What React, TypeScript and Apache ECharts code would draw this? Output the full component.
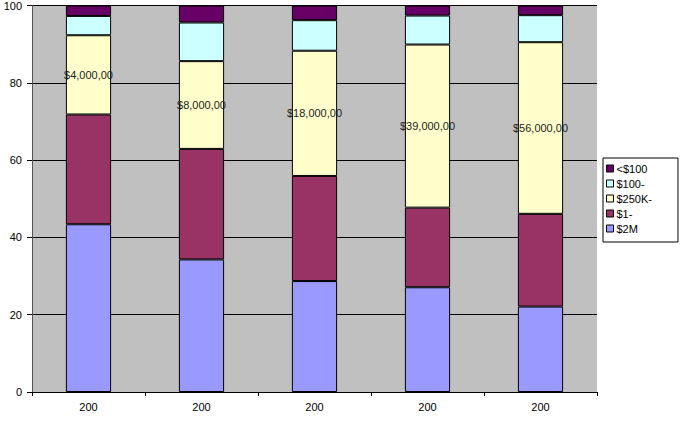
import React, { useEffect, useRef } from "react";
import * as echarts from "echarts";

const categories = ["200", "200", "200", "200", "200"];
const seriesNames = ["$2M", "$1-", "$250K-", "$100-", "<$100"];
const s2M = [43.4, 34.3, 28.7, 27.1, 22.1];
const s1 = [28.4, 28.6, 27.2, 20.6, 24.0];
const s250K = [20.5, 22.7, 32.4, 42.2, 44.4];
const s100 = [5.0, 10.0, 7.9, 7.5, 7.0];
const sLt100 = [2.7, 4.4, 3.8, 2.6, 2.5];
const labels250K = ["$4,000,00", "$8,000,00", "$18,000,00", "$39,000,00", "$56,000,00"];
const colors = ["#9999FF", "#993366", "#FFFFCC", "#CCFFFF", "#660066"];
const yTicks = [0, 20, 40, 60, 80, 100];

export default function App() {
  const ref = useRef<HTMLDivElement>(null);
  useEffect(() => {
    if (!ref.current) return;
    const chart = echarts.init(ref.current, null, { renderer: "svg" });
    const dataSets = [s2M, s1, s250K, s100, sLt100];
    const font = "Liberation Sans, Arial, sans-serif";
    const series = seriesNames.map((name, i) => ({
      name,
      type: "bar" as const,
      stack: "total",
      barWidth: "40%",
      data: dataSets[i],
      itemStyle: { color: colors[i], borderColor: "#000", borderWidth: 1 },
      label:
        name === "$250K-"
          ? {
              show: true,
              position: "inside" as const,
              formatter: (p: any) => labels250K[p.dataIndex],
              color: "#222",
              fontSize: 11,
              fontFamily: font,
            }
          : { show: false },
      emphasis: { disabled: true },
    }));
    chart.setOption({
      animation: false,
      color: colors,
      textStyle: { fontFamily: font },
      grid: {
        left: 32,
        top: 4,
        right: 85,
        bottom: 34,
        show: true,
        backgroundColor: "#C0C0C0",
        borderWidth: 0,
      },
      legend: {
        orient: "vertical",
        left: 603,
        top: 158,
        data: [...seriesNames].reverse(),
        itemWidth: 7,
        itemHeight: 7,
        itemGap: 4,
        padding: [5, 26, 8, 3],
        borderColor: "#000",
        borderWidth: 1,
        textStyle: { fontSize: 11, color: "#000", fontFamily: font, padding: [0, 0, 0, -2] },
        icon: "rect",
        itemStyle: { borderColor: "#000", borderWidth: 1 },
      },
      xAxis: {
        type: "category",
        data: categories,
        axisLine: { lineStyle: { color: "#000" } },
        axisTick: { show: true, alignWithLabel: false, length: 4, lineStyle: { color: "#000" } },
        axisLabel: { color: "#000", fontSize: 11, margin: 9, fontFamily: font },
      },
      yAxis: {
        type: "value",
        min: yTicks[0],
        max: yTicks[yTicks.length - 1],
        interval: 20,
        axisLine: { show: true, lineStyle: { color: "#555" } },
        axisTick: { show: true, length: 5, lineStyle: { color: "#000" } },
        axisLabel: { color: "#000", fontSize: 11, margin: 10, fontFamily: font },
        splitLine: { show: true, lineStyle: { color: "#000", width: 1 } },
      },
      series,
    });
    return () => chart.dispose();
  }, []);
  return <div ref={ref} style={{ width: 682, height: 426, position: "absolute", left: 0, top: 0 }} />;
}
